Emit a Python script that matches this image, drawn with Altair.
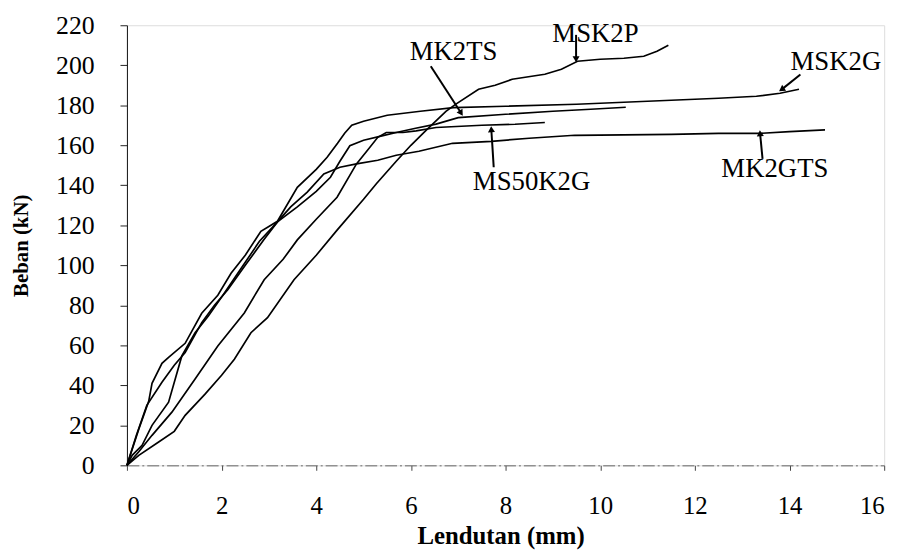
import altair as alt
import pandas as pd

# ---- data ----
msk2g_x = [0, 0.25, 0.46, 0.53, 0.74, 0.88, 1.23, 1.58, 1.92, 2.2, 2.5, 2.83, 3.18, 3.6, 4.0, 4.23, 4.45, 4.6, 4.75,
           5.0, 5.5, 6.2, 6.9, 8.0, 9.5, 10.5, 11.5, 12.5, 13.3, 13.8, 14.2]
msk2g_y = [0, 18, 32, 41, 51, 54, 61, 76, 85, 96, 105, 117, 122, 139, 148, 154, 161, 166, 170,
           172, 175, 177, 178.8, 179.5, 180.5, 181.5, 182.5, 183.5, 184.5, 186, 188]

mk2ts_x = [0, 0.11, 0.32, 0.53, 0.88, 1.16, 1.44, 1.72, 2.06, 2.4, 2.8, 3.18, 3.6, 4.0, 4.3, 4.5, 4.71,
           5.0, 5.41, 5.69, 6.1, 6.53, 7.0, 8.0, 9.0, 9.8, 10.54]
mk2ts_y = [0, 5, 10, 20, 31.6, 54.7, 66.3, 74.6, 86.2, 98, 112, 121.7, 129.2, 137, 144, 152, 159.8,
           162.5, 164.8, 166.4, 168.5, 170.6, 173.8, 175.5, 177, 178, 179]

mk2gts_x = [0, 0.2, 0.42, 0.74, 1.0, 1.23, 1.58, 1.85, 2.13, 2.5, 2.9, 3.18, 3.46, 3.81, 4.16, 4.5, 4.85,
            5.3, 5.69, 6.17, 6.88, 7.7, 8.5, 9.46, 10.5, 11.5, 12.5, 13.4, 14.0, 14.75]
mk2gts_y = [0, 15, 30, 41.5, 50, 56.4, 71.3, 80, 87.8, 100, 113, 121.7, 129.2, 136.6, 145.7, 149, 150.7,
            152.5, 155, 157, 161, 162, 163.5, 165, 165.2, 165.5, 166, 166, 166.8, 167.7]

ms50k2g_x = [0, 0.25, 0.53, 0.95, 1.44, 1.92, 2.48, 2.9, 3.3, 3.6, 4.0, 4.44, 4.85, 5.1, 5.3, 5.48, 5.83,
             6.11, 6.53, 7.5, 8.2, 8.83]
ms50k2g_y = [0, 6.8, 15, 26.6, 43.2, 59.7, 76.2, 92.8, 103, 112.7, 123, 134, 150.7, 158, 164, 166.4, 166.4,
             167.2, 168.9, 170, 170.5, 171.4]

msk2p_x = [0, 0.25, 0.67, 1.0, 1.23, 1.65, 2.0, 2.27, 2.62, 2.97, 3.53, 4.0, 4.44, 5.0, 5.27, 5.69, 6.0,
           6.32, 6.74, 6.95, 7.43, 7.78, 8.14, 8.83, 9.18, 9.52, 10.0, 10.5, 10.92, 11.2, 11.44]
msk2p_y = [0, 5, 11.7, 17, 25, 35.6, 45, 53, 66.3, 73.8, 92.8, 105, 117.6, 133, 140.8, 152, 160,
           167.5, 177, 180.6, 188, 190, 193, 195.5, 198, 202, 203, 203.5, 204.5, 207, 210]

series = {
    "MSK2G": (msk2g_x, msk2g_y),
    "MK2TS": (mk2ts_x, mk2ts_y),
    "MK2GTS": (mk2gts_x, mk2gts_y),
    "MS50K2G": (ms50k2g_x, ms50k2g_y),
    "MSK2P": (msk2p_x, msk2p_y),
}

label_names = ["MK2TS", "MSK2P", "MSK2G", "MS50K2G", "MK2GTS"]
label_x = [6.9, 9.9, 14.98, 8.55, 13.69]
label_y = [206.5, 215.6, 201.5, 141.4, 148.1]
arrow_x = [6.42, 9.49, 14.23, 7.75, 13.43]
arrow_y = [199.5, 215.2, 195.4, 149.0, 153.2]
head_x = [7.05, 9.49, 13.85, 7.7, 13.38]
head_y = [176.5, 203.5, 188.2, 167.5, 165.5]
head_angle = [147.6, 180, 236.2, 357, 355.4]

x_ticks = list(range(0, 17, 2))
y_ticks = list(range(0, 221, 20))

rows = []
for name, (xs, ys) in series.items():
    for i, (xv, yv) in enumerate(zip(xs, ys)):
        rows.append({"series": name, "i": i, "x": xv, "y": yv})
df = pd.DataFrame(rows)

ann = pd.DataFrame({"label": label_names, "lx": label_x, "ly": label_y,
                    "ax": arrow_x, "ay": arrow_y, "hx": head_x, "hy": head_y, "ang": head_angle})

FONT = "Liberation Serif"

xscale = alt.Scale(domain=[0, 16], nice=False)
yscale = alt.Scale(domain=[0, 220], nice=False)

lines = alt.Chart(df).mark_line(color="black", strokeWidth=1.7).encode(
    x=alt.X("x:Q", scale=xscale, axis=alt.Axis(
        values=x_ticks, title="Lendutan (mm)", grid=False, tickSize=5, tickColor="#444",
        labelFontSize=25, labelPadding=24, labelColor="black", labelFont=FONT,
        titleFont=FONT, titleFontSize=25, titleFontWeight="bold", titleColor="black",
        titleX=377, titleY=71, titleBaseline="middle",
        domainColor="#666", domainDash=[12, 3, 2, 3])),
    y=alt.Y("y:Q", scale=yscale, axis=alt.Axis(
        values=y_ticks, title="Beban (kN)", grid=False, tickSize=7, tickColor="#222",
        labelFontSize=26, labelPadding=26, labelColor="black", labelFont=FONT,
        titleFont=FONT, titleFontSize=21, titleFontWeight="bold", titleColor="black",
        titleX=-106, titleY=222, titleBaseline="middle",
        domainColor="#111")),
    detail="series:N",
    order="i:Q",
)

rules = alt.Chart(ann).mark_rule(color="black", strokeWidth=2).encode(
    x="ax:Q", y="ay:Q", x2="hx:Q", y2="hy:Q")

heads = alt.Chart(ann).mark_point(shape="triangle", filled=True, color="black", size=50, opacity=1).encode(
    x="hx:Q", y="hy:Q", angle=alt.Angle("ang:Q", scale=None))

texts = alt.Chart(ann).mark_text(font=FONT, fontSize=27, color="black", align="center",
                                 baseline="middle").encode(
    x="lx:Q", y="ly:Q", text="label:N")

chart = alt.layer(lines, rules, heads, texts).properties(
    width=764, height=444,
    autosize=alt.AutoSizeParams(type="none"),
    padding={"left": 120, "top": 15, "right": 20, "bottom": 83},
).configure_view(stroke="#666", strokeWidth=1, strokeDash=[12, 3, 2, 3]).configure(background="white")

chart.save("out.html", embed_options={"renderer": "svg", "actions": False})
